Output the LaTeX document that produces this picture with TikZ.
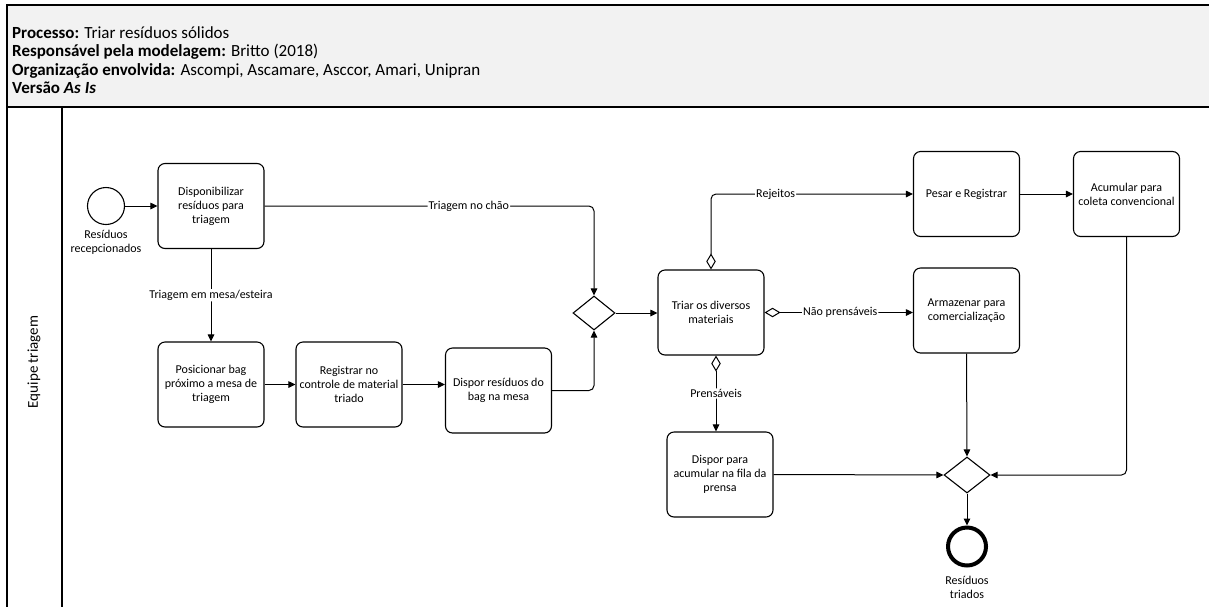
\documentclass[tikz,border=0pt]{standalone}
\usepackage{fontspec}
\setmainfont{Carlito}
\usetikzlibrary{arrows.meta,shapes.geometric}
\definecolor{hdrfill}{HTML}{F2F2F2}
\begin{document}
\begin{tikzpicture}[x=1pt,y=-1pt,
  task/.style={draw, rounded corners=7pt, minimum width=106pt, minimum height=85pt, inner sep=0pt, align=center, font=\fontsize{12}{14}\selectfont, line width=1.1pt},
  gw/.style={draw, diamond, minimum width=42pt, minimum height=34pt, inner sep=0pt, line width=1.1pt},
  flow/.style={line width=1pt, -{Triangle[length=7pt,width=6.5pt]}, rounded corners=5pt},
  cflow/.style={line width=1pt, {Diamond[open,length=16pt,width=9.5pt]}-{Triangle[length=7pt,width=6.5pt]}, rounded corners=5pt},
  elabel/.style={fill=white, inner sep=1pt, font=\fontsize{12}{14}\selectfont},
  evlabel/.style={align=center, inner sep=0pt, font=\fontsize{12}{14}\selectfont},
  hdr/.style={anchor=base west, inner sep=0pt, font=\fontsize{17}{18}\selectfont},
]
\useasboundingbox (0,0) rectangle (1209,606);
\fill[white] (0,0) rectangle (1209,606);
\begin{scope}
\clip (0,0) rectangle (1209,606);
\draw[fill=hdrfill, line width=2pt] (7,5) rectangle (1220,107);
\draw[line width=1.5pt] (7,107) -- (7,620);
\draw[line width=1.5pt] (62,107) -- (62,620);
\end{scope}

\node[hdr] (h1) at (12,38.5) {\textbf{Processo:} Triar resíduos sólidos};
\node[hdr] (h2) at (12,56.8) {\textbf{Responsável pela modelagem:} Britto (2018)};
\node[hdr] (h3) at (12,75.1) {\textbf{Organização envolvida:} Ascompi, Ascamare, Asccor, Amari, Unipran};
\node[hdr] (h4) at (12,93.5) {\textbf{Versão \textit{As Is}}};

\node[rotate=90, font=\fontsize{15}{17}\selectfont] (lane) at (34,362) {Equipe triagem};

\node[draw, circle, minimum size=37pt, inner sep=0pt, line width=1.1pt] (start) at (106,206) {};
\node[evlabel] (startl) at (106,242) {Resíduos\\recepcionados};
\node[task] (disp) at (211,206) {Disponibilizar\\resíduos para\\triagem};
\node[task] (pos) at (211,384.5) {Posicionar bag\\próximo a mesa de\\triagem};
\node[task] (reg) at (349,384.5) {Registrar no\\controle de material\\triado};
\node[task] (dis) at (498.5,390.5) {Dispor resíduos do\\bag na mesa};
\node[gw] (g1) at (594,313) {};
\node[task] (tri) at (711,312.5) {Triar os diversos\\materiais};
\node[task] (pes) at (966.5,194) {Pesar e Registrar};
\node[task] (acu) at (1126.5,194) {Acumular para\\coleta convencional};
\node[task] (arm) at (966.5,310.5) {Armazenar para\\comercialização};
\node[task] (dac) at (720,474.5) {Dispor para\\acumular na fila da\\prensa};
\node[gw, minimum width=46pt, minimum height=36pt] (g2) at (967,475) {};
\node[draw, circle, minimum size=38pt, inner sep=0pt, line width=4pt] (end) at (967,546.5) {};
\node[evlabel] (endl) at (967,587) {Resíduos\\triados};

\draw[flow] (start.east) -- (disp.west);
\draw[flow] (disp.south) -- node[elabel] {Triagem em mesa/esteira} (pos.north);
\draw[flow] (pos.east) -- (reg.west);
\draw[flow] (reg.east) -- (reg.east -| dis.west);
\draw[flow] (dis.east) -| (g1.south);
\draw[flow] (disp.east) -| node[elabel, pos=0.31] {Triagem no chão} (g1.north);
\draw[flow] (g1.east) -- (g1.east -| tri.west);
\draw[cflow] (tri.north) |- node[elabel, pos=0.66] {Rejeitos} (pes.west);
\draw[cflow] (tri.east) -- node[elabel, pos=0.51] {Não prensáveis} (tri.east -| arm.west);
\draw[cflow] ([xshift=5pt]tri.south) -- node[elabel] {Prensáveis} ([xshift=5pt]tri.south |- dac.north);
\draw[flow] (pes.east) -- (acu.west);
\draw[flow] (arm.south) -- (g2.north);
\draw[flow] (acu.south) |- (g2.east);
\draw[flow] (dac.east) -- (g2.west);
\draw[flow] (g2.south) -- (end.north);
\end{tikzpicture}
\end{document}
